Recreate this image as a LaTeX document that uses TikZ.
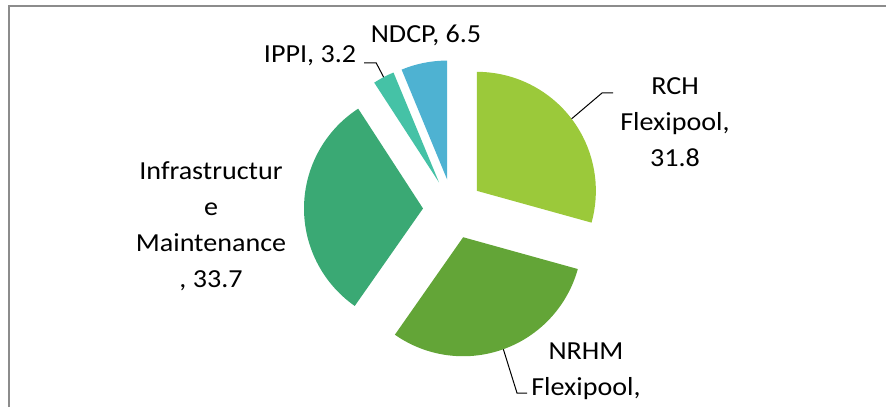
\documentclass[tikz,border=0pt]{standalone}
\usepackage{fontspec}
\setmainfont{Carlito}[FakeStretch=1.08]
\usetikzlibrary{calc}
\definecolor{frame}{HTML}{8C8C8C}
\definecolor{rch}{HTML}{9BC93A}
\definecolor{nrhm}{HTML}{63A537}
\definecolor{infra}{HTML}{3AA974}
\definecolor{ippi}{HTML}{45C2A6}
\definecolor{ndcp}{HTML}{4EB2D2}
\tikzset{
  slice/.style={fill=#1,draw=none},
  lbl/.style={align=center,inner sep=0pt,font=\fontsize{26}{36}\selectfont,text=black},
  leader/.style={draw=black,line width=1pt},
  border/.style={draw=frame,line width=2pt}
}
\begin{document}
\begin{tikzpicture}[x=1pt,y=1pt]
    \useasboundingbox (0,0) rectangle (886,407);
    \draw[border] (9,0) -- (9,400.5) -- (886,400.5);
    \coordinate (c) at (453,198);

    \foreach \from/\to/\col in {90/-15.5/rch,-15.5/-125/nrhm,-125/-237/infra,-237/-247.5/ippi,-247.5/-270/ndcp} {
      \fill[slice=\col] ($(c)+({(\from+\to)/2}:30)$) -- ++(\from:119) arc[start angle=\from,end angle=\to,radius=119] -- cycle;
      \coordinate (tip-\col) at ($(c)+({(\from+\to)/2}:149)$);
    }

    \node[lbl,anchor=base] (ndcplbl) at (426,364) {NDCP, 6.5};
    \node[lbl,anchor=base] (ippilbl) at (310,344) {IPPI, 3.2};
    \node[lbl,anchor=base] (rchlbl) at (675,240) {RCH\\Flexipool,\\31.8};
    \node[lbl,anchor=base] (infralbl) at (211,119) {Infrastructur\\e\\Maintenance\\, 33.7};
    \node[lbl,anchor=base] (nrhmlbl) at (586,12) {NRHM\\Flexipool,};

    \draw[leader] (ippilbl.base east) ++(8,0) -- ++(12,0) -- (tip-ippi);
    \draw[leader] ($(rchlbl.base)+(-62,74)$) -- ++(-11,0) -- (tip-rch);
    \draw[leader] ($(nrhmlbl.base)+(-59,2)$) -- ++(-10,0) -- (tip-nrhm);
  \end{tikzpicture}
\end{document}
